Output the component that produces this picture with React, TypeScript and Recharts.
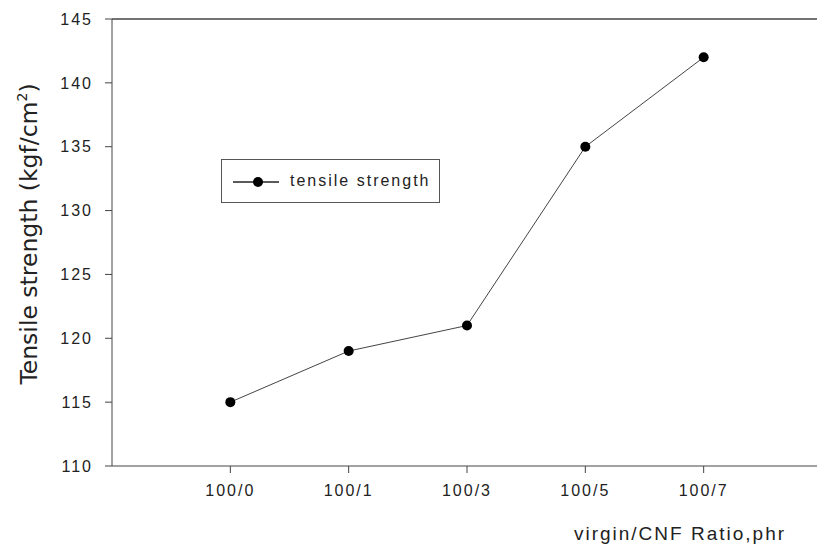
import React from 'react';
import {
  LineChart,
  Line,
  XAxis,
  YAxis,
  ReferenceLine,
} from 'recharts';

const ratios = ['100/0', '100/1', '100/3', '100/5', '100/7'];
const positions = [1, 2, 3, 4, 5];
const strength = [115, 119, 121, 135, 142];
const yTicks = [110, 115, 120, 125, 130, 135, 140, 145];

const data = ratios.map((r, i) => ({ pos: positions[i], label: r, strength: strength[i] }));

const axisColor = '#444';
const tickFont = {
  fontSize: 16,
  fill: '#222',
  fontFamily: 'Liberation Sans, Arial, sans-serif',
  letterSpacing: 2,
};

function LegendBox() {
  return (
    <div
      style={{
        position: 'absolute',
        left: 221,
        top: 159,
        width: 219,
        height: 44,
        border: '1px solid #555',
        background: '#fff',
        boxSizing: 'border-box',
      }}
    >
      <svg width={60} height={42} style={{ position: 'absolute', left: 8, top: 0 }}>
        <line x1={3} y1={22} x2={49} y2={22} stroke="#222" strokeWidth={1.5} />
        <circle cx={28} cy={22} r={5} fill="#000" />
      </svg>
      <span
        style={{
          position: 'absolute',
          left: 68,
          top: 12,
          fontFamily: 'Liberation Sans, Arial, sans-serif',
          fontSize: 16,
          letterSpacing: 2,
          color: '#222',
        }}
      >
        tensile strength
      </span>
    </div>
  );
}

export default function App() {
  return (
    <div
      style={{
        position: 'fixed',
        left: 0,
        top: 0,
        width: 817,
        height: 546,
        overflow: 'hidden',
        background: '#fff',
      }}
    >
      <LineChart
        width={830}
        height={546}
        data={data}
        margin={{ top: 19, right: 8, left: 0, bottom: 40 }}
      >
        <XAxis
          dataKey="pos"
          type="number"
          domain={[0, 6]}
          ticks={positions}
          tickFormatter={(v: number) => ratios[positions.indexOf(v)] ?? ''}
          stroke={axisColor}
          tickSize={7}
          tickMargin={12}
          tick={tickFont}
          height={40}
        />
        <YAxis
          type="number"
          domain={[110, 145]}
          ticks={yTicks}
          stroke={axisColor}
          tickSize={7}
          tickMargin={12}
          tick={tickFont}
          width={112}
          interval={0}
        />
        <ReferenceLine y={145} stroke={axisColor} strokeWidth={1.5} />
        <Line
          type="linear"
          dataKey="strength"
          stroke="#444"
          strokeWidth={1}
          dot={{ r: 5, fill: '#000', stroke: '#000', strokeWidth: 0 }}
          isAnimationActive={false}
        />
      </LineChart>
      <LegendBox />
      <svg
        width={817}
        height={546}
        style={{ position: 'absolute', left: 0, top: 0, pointerEvents: 'none' }}
      >
        <text
          transform="translate(37, 234) rotate(-90)"
          textAnchor="middle"
          fontFamily="DejaVu Sans, Verdana, sans-serif"
          fontSize={23.5}
          fill="#222"
        >
          Tensile strength  (kgf/cm
          <tspan fontSize={14} dy={-10}>2</tspan>
          <tspan dy={10}>)</tspan>
        </text>
        <text
          x={680}
          y={540}
          textAnchor="middle"
          fontFamily="Liberation Sans, Arial, sans-serif"
          fontSize={19}
          letterSpacing={2}
          fill="#222"
        >
          virgin/CNF Ratio,phr
        </text>
      </svg>
    </div>
  );
}
